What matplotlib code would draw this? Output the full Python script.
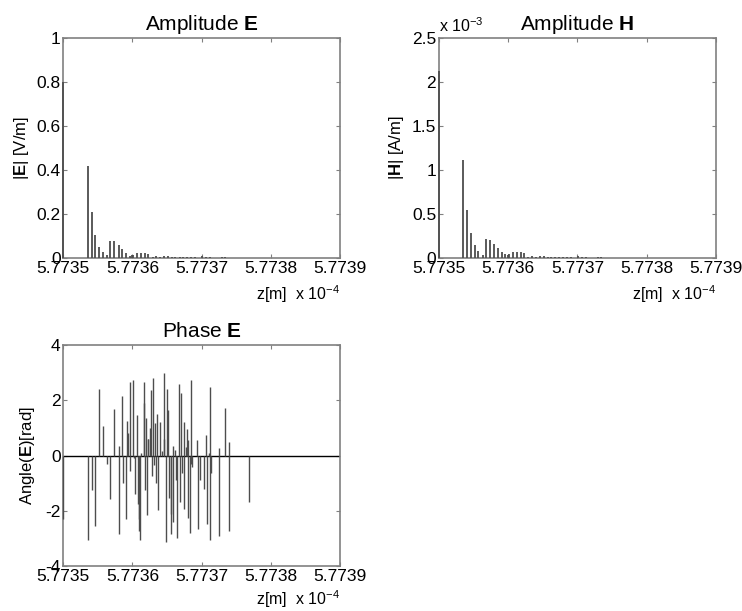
# Amplitude / phase stem plots (MATLAB style)
import numpy as np
import matplotlib
matplotlib.use("Agg")
from matplotlib import pyplot as plt

plt.rcParams['font.family'] = ['Liberation Sans', 'DejaVu Sans']
plt.rcParams['mathtext.fontset'] = 'custom'
plt.rcParams['mathtext.rm'] = 'Liberation Sans'
plt.rcParams['mathtext.bf'] = 'Liberation Sans:bold'
plt.rcParams['mathtext.it'] = 'Liberation Sans:italic'

# z positions in units of 1e-4 m
z_amp = [5.773500, 5.773535, 5.773541, 5.773546, 5.773552, 5.773557, 5.773563,
         5.773568, 5.773574, 5.773580, 5.773585, 5.773591, 5.773596, 5.773599,
         5.773601, 5.773607, 5.773612, 5.773618, 5.773623, 5.773629, 5.773634,
         5.773640, 5.773646, 5.773651, 5.773657, 5.773662, 5.773668, 5.773673,
         5.773679, 5.773685, 5.773690, 5.773696, 5.773701, 5.773707, 5.773712,
         5.773718, 5.773723, 5.773729, 5.773734, 5.773740]

# |E| in V/m
E_amp = [0.80, 0.418, 0.208, 0.105, 0.052, 0.027, 0.014, 0.079, 0.079, 0.058,
         0.040, 0.022, 0.010, 0.013, 0.013, 0.021, 0.024, 0.024, 0.020, 0.005,
         0.008, 0.006, 0.010, 0.007, 0.005, 0.006, 0.004, 0.005, 0.003, 0.004,
         0.003, 0.002, 0.008, 0.003, 0.004, 0.002, 0.001, 0.003, 0.005, 0.002]

# |H| in units of 1e-3 A/m
H_amp = [2.13, 1.11, 0.545, 0.28, 0.145, 0.075, 0.040, 0.215, 0.210, 0.160,
         0.115, 0.068, 0.045, 0.040, 0.042, 0.065, 0.070, 0.070, 0.060, 0.015,
         0.020, 0.015, 0.025, 0.020, 0.012, 0.015, 0.010, 0.012, 0.008, 0.010,
         0.008, 0.005, 0.020, 0.008, 0.010, 0.005, 0.003, 0.008, 0.012, 0.005]

# phase of E
z_ph = [5.773500, 5.773535, 5.773541, 5.773546, 5.773552, 5.773557, 5.773563,
        5.773568, 5.773574, 5.773580, 5.773581, 5.773585, 5.773586, 5.773591,
        5.773592, 5.773593, 5.773596, 5.773597, 5.773601, 5.773602, 5.773603,
        5.773607, 5.773608, 5.773609, 5.773610, 5.773611, 5.773612, 5.773616,
        5.773617, 5.773618, 5.773620, 5.773621, 5.773622, 5.773623, 5.773626,
        5.773627, 5.773628, 5.773629, 5.773631, 5.773633, 5.773634, 5.773636,
        5.773637, 5.773640, 5.773642, 5.773645, 5.773646, 5.773648, 5.773650,
        5.773652, 5.773653, 5.773655, 5.773656, 5.773658, 5.773659, 5.773661,
        5.773663, 5.773665, 5.773667, 5.773668, 5.773670, 5.773671, 5.773674,
        5.773675, 5.773677, 5.773679, 5.773680, 5.773681, 5.773683, 5.773684,
        5.773685, 5.773686, 5.773694, 5.773695, 5.773698, 5.773703, 5.773707,
        5.773708, 5.773711, 5.773712, 5.7737125, 5.773713, 5.773725, 5.7737255,
        5.773734, 5.773739, 5.7737395, 5.773769]
ph_E = [-2.30, -3.05, -1.25, -2.55, 2.40, 1.07, -0.30, -1.57, 1.68, -2.83,
        0.35, 2.15, -1.00, -2.30, 1.24, 0.80, 2.65, -0.55, 2.74, -0.10,
        -1.40, 1.45, -1.75, -2.75, -2.30, -3.05, 0.08, 2.65, 1.90, -1.25,
        1.35, -2.17, 0.60, 0.60, 1.00, 2.36, -0.75, 2.82, -0.35, 1.18,
        -1.00, 1.50, -1.98, 1.20, 0.15, 0.60, 2.98, -3.12, 2.40, 1.66,
        -1.52, -2.10, -2.85, 0.33, -2.40, 0.20, -0.90, -3.00, 2.58, -1.70,
        2.25, -0.65, 1.22, -1.92, 0.30, 0.97, -2.25, 0.55, -2.82, 2.75,
        -0.30, -0.40, 0.55, -2.65, -0.90, -1.20, 0.75, -2.48, 0.08, -3.05,
        2.48, -0.65, 0.28, -2.92, 1.73, 0.48, -2.75, -1.67]

z_ticks = [5.7735, 5.7736, 5.7737, 5.7738, 5.7739]
z_ticklabels = ['5.7735', '5.7736', '5.7737', '5.7738', '5.7739']

fig = plt.figure(figsize=(7.42, 6.11), dpi=100)
ax1 = fig.add_axes([0.0853, 0.5777, 0.3729, 0.3601])
ax2 = fig.add_axes([0.5916, 0.5777, 0.3733, 0.3601])
ax3 = fig.add_axes([0.0853, 0.0736, 0.3729, 0.3617])

stem_col = '0.3'
spine_col = '0.5'


def style(ax, label_y=-0.165):
    ax.set_xlim(5.7735, 5.7739)
    ax.set_xticks(z_ticks)
    ax.set_xticklabels(z_ticklabels)
    for s in ax.spines.values():
        s.set_color(spine_col)
        s.set_linewidth(1.2)
    ax.tick_params(direction='in', length=3, width=0.8, color=spine_col,
                   top=True, right=True, labelsize=12.5, pad=2)
    ax.text(1.0, label_y, 'z[m]  x 10$^{-4}$', transform=ax.transAxes,
            ha='right', va='center', fontsize=11.5)


# Amplitude E
ax1.vlines(z_amp, 0, E_amp, color=stem_col, lw=1.3, clip_on=False, zorder=3)
ax1.set_ylim(0, 1)
ax1.set_yticks([0, 0.2, 0.4, 0.6, 0.8, 1])
ax1.set_yticklabels(['0', '0.2', '0.4', '0.6', '0.8', '1'])
ax1.set_title('Amplitude $\\mathbf{E}$', fontsize=15, pad=6)
ax1.set_ylabel('|$\\mathbf{E}$| [V/m]', fontsize=12, labelpad=4)
style(ax1)

# Amplitude H
ax2.vlines(z_amp, 0, H_amp, color=stem_col, lw=1.3, clip_on=False, zorder=3)
ax2.set_ylim(0, 2.5)
ax2.set_yticks([0, 0.5, 1, 1.5, 2, 2.5])
ax2.set_yticklabels(['0', '0.5', '1', '1.5', '2', '2.5'])
ax2.set_title('Amplitude $\\mathbf{H}$', fontsize=15, pad=6)
ax2.set_ylabel('|$\\mathbf{H}$| [A/m]', fontsize=12, labelpad=4)
ax2.text(0.0, 1.015, 'x 10$^{-3}$', transform=ax2.transAxes,
         ha='left', va='bottom', fontsize=11.5)
style(ax2)

# Phase E
ax3.vlines(z_ph, 0, ph_E, color=stem_col, lw=1, clip_on=False, zorder=3)
ax3.axhline(0, color='k', lw=1)
ax3.set_ylim(-4, 4)
ax3.set_yticks([-4, -2, 0, 2, 4])
ax3.set_yticklabels(['-4', '-2', '0', '2', '4'])
ax3.set_title('Phase $\\mathbf{E}$', fontsize=15, pad=6)
ax3.set_ylabel('Angle($\\mathbf{E}$)[rad]', fontsize=12, labelpad=6)
style(ax3, label_y=-0.15)

plt.savefig('out.png', dpi=100)
